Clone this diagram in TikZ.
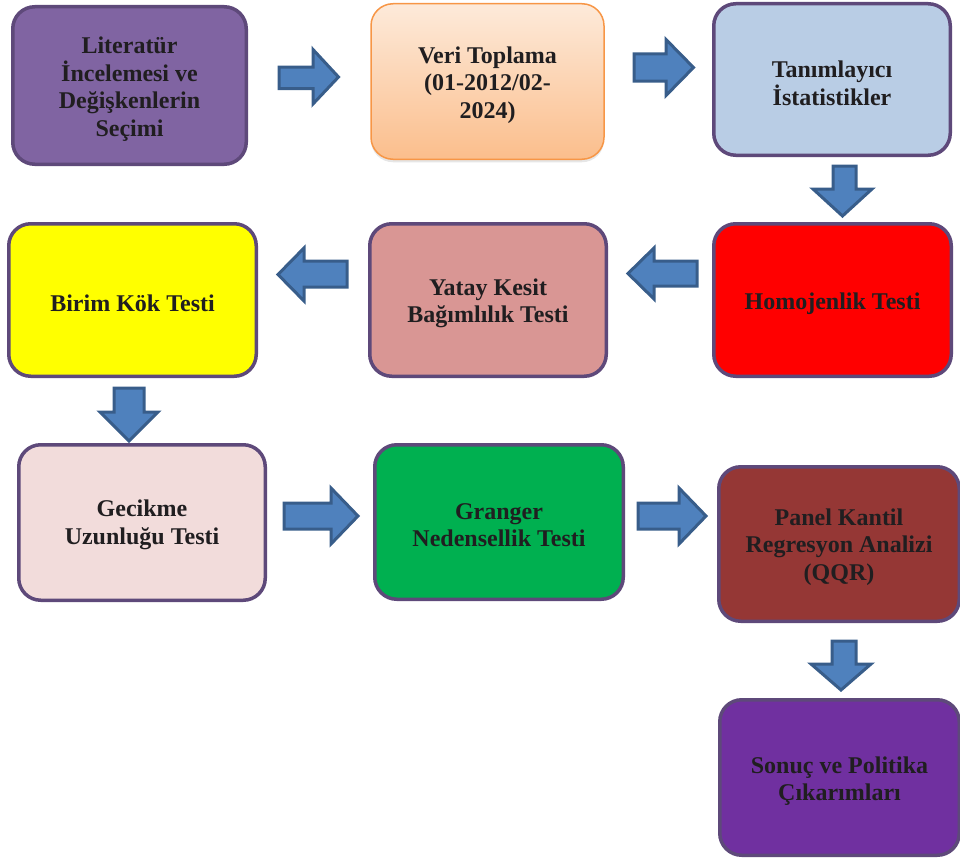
\documentclass[tikz,border=0pt]{standalone}
\usepackage{fontspec}
\setmainfont{Liberation Serif}
\usetikzlibrary{shadows}
\definecolor{edge}{RGB}{94,73,122}
\definecolor{txt}{RGB}{32,30,32}
\definecolor{arrowfill}{RGB}{79,129,189}
\definecolor{arrowedge}{RGB}{56,93,138}
\definecolor{orangeedge}{RGB}{247,150,70}
\definecolor{peachtop}{RGB}{253,234,218}
\definecolor{peachbot}{RGB}{251,190,140}
\definecolor{cLit}{RGB}{128,100,162}
\definecolor{cTan}{RGB}{185,205,229}
\definecolor{cHom}{RGB}{255,0,0}
\definecolor{cYat}{RGB}{217,150,148}
\definecolor{cBir}{RGB}{255,255,0}
\definecolor{cGec}{RGB}{242,220,219}
\definecolor{cGra}{RGB}{0,176,80}
\definecolor{cPan}{RGB}{149,55,53}
\definecolor{cSon}{RGB}{112,48,160}
\begin{document}
\begin{tikzpicture}[x=1pt,y=-1pt,
  box/.style={draw=edge, line width=3.5pt, rounded corners=22pt, inner sep=0pt},
  boxtext/.style={align=center, text=txt, font=\fontsize{24}{27.6}\selectfont\bfseries, inner sep=0pt},
  blockarrow/.style={draw=arrowedge, fill=arrowfill, line width=3pt, line join=miter}]
\useasboundingbox (0,0) rectangle (960,859);

% boxes
\node[box, fill=cLit, minimum width=233.5pt, minimum height=157.5pt] (lit) at (129.5,85.5) {};
\node[box, draw=orangeedge, line width=1.5pt, top color=peachtop, bottom color=peachbot,
  drop shadow={shadow xshift=0pt, shadow yshift=-3pt, opacity=0.2},
  minimum width=233pt, minimum height=155.5pt] (veri) at (487.5,81.5) {};
\node[box, fill=cTan, minimum width=236.5pt, minimum height=151.5pt] (tan) at (832,79.5) {};
\node[box, fill=cHom, minimum width=237.5pt, minimum height=152.5pt] (hom) at (832.5,300) {};
\node[box, fill=cYat, minimum width=236.5pt, minimum height=152.5pt] (yat) at (488,300) {};
\node[box, fill=cBir, minimum width=247.5pt, minimum height=152.5pt] (bir) at (132.5,300) {};
\node[box, fill=cGec, minimum width=246.5pt, minimum height=155.5pt] (gec) at (142,522.5) {};
\node[box, fill=cGra, minimum width=248.5pt, minimum height=154.5pt] (gra) at (499,522) {};
\node[box, fill=cPan, minimum width=240.5pt, minimum height=154.5pt] (pan) at (839,544) {};
\node[box, fill=cSon, minimum width=239.5pt, minimum height=155.5pt] (son) at (839.5,777.5) {};

% texts
\node[boxtext] (litT) at (129.5,89) {Literatür\\İncelemesi ve\\Değişkenlerin\\Seçimi};
\node[boxtext] (veriT) at (487.5,85) {Veri Toplama\\(01-2012/02-\\2024)};
\node[boxtext] (tanT) at (832,83) {Tanımlayıcı\\İstatistikler};
\node[boxtext] (homT) at (832.5,303.5) {Homojenlik Testi};
\node[boxtext] (yatT) at (488,303.5) {Yatay Kesit\\Bağımlılık Testi};
\node[boxtext] (birT) at (132.5,303.5) {Birim Kök Testi};
\node[boxtext] (gecT) at (142,525) {Gecikme\\Uzunluğu Testi};
\node[boxtext] (graT) at (499,525) {Granger\\Nedensellik Testi};
\node[boxtext] (panT) at (839,547) {Panel Kantil\\Regresyon Analizi\\(QQR)};
\node[boxtext] (sonT) at (839.5,781) {Sonuç ve Politika\\Çıkarımları};

% block arrows
\draw[blockarrow] (279,67)--(313,67)--(313,49.5)--(338.5,77)--(313,104)--(313,88.5)--(279,88.5)--cycle;
\draw[blockarrow] (634,54)--(666,54)--(666,39.5)--(693.5,67.5)--(666,95.5)--(666,81)--(634,81)--cycle;
\draw[blockarrow] (833,166)--(856,166)--(856,189)--(872,189)--(842.5,216)--(813,189)--(833,189)--cycle;
\draw[blockarrow] (697,261)--(654,261)--(654,248)--(628,273.5)--(654,299)--(654,286)--(697,286)--cycle;
\draw[blockarrow] (347,261)--(304,261)--(304,248)--(278,274.5)--(304,301)--(304,287)--(347,287)--cycle;
\draw[blockarrow] (114,388)--(144,388)--(144,412)--(158,412)--(129,441)--(100,412)--(114,412)--cycle;
\draw[blockarrow] (284,503)--(331,503)--(331,488)--(358,516)--(331,544)--(331,529)--(284,529)--cycle;
\draw[blockarrow] (638,503)--(679,503)--(679,488)--(706,516)--(679,544)--(679,529)--(638,529)--cycle;
\draw[blockarrow] (832,641)--(856,641)--(856,664)--(871,664)--(841,690)--(811,664)--(832,664)--cycle;
\end{tikzpicture}
\end{document}
